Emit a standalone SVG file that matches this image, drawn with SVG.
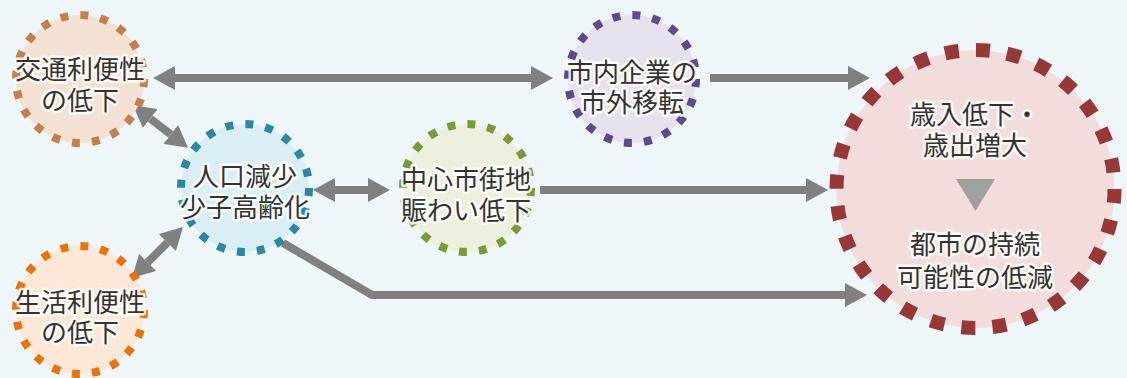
<svg xmlns="http://www.w3.org/2000/svg" width="1127" height="378" viewBox="0 0 1127 378">
<style>
  .lbl{font-family:"Noto Sans CJK JP","Noto Sans",sans-serif;font-size:26px;fill:#333;text-anchor:middle;dominant-baseline:central;stroke:#fff;stroke-width:5;stroke-opacity:0.85;paint-order:stroke;stroke-linejoin:round}
  .con{fill:none;stroke:#808080;stroke-width:8;stroke-linejoin:miter}
  .ring{stroke-width:8;stroke-dasharray:8 12.1}
</style>
<defs>
  <marker id="ah" markerUnits="userSpaceOnUse" markerWidth="22" markerHeight="24" viewBox="0 0 22 24" refX="0" refY="12" orient="auto-start-reverse">
    <path d="M0,0 L22,12 L0,24 Z" fill="#808080"/>
  </marker>
</defs>
<rect width="1127" height="378" fill="#EEF6F9"/>
<g id="connectors">
  <path class="con" d="M175,78 L531,78" marker-start="url(#ah)" marker-end="url(#ah)"/>
  <path class="con" d="M710,78 L848,78" marker-end="url(#ah)"/>
  <path class="con" d="M540,190 L806,190" marker-end="url(#ah)"/>
  <path class="con" d="M335,190 L368,190" marker-start="url(#ah)" marker-end="url(#ah)"/>
  <path class="con" d="M283,243 L372,295 L845,295" marker-end="url(#ah)"/>
  <path class="con" d="M150.3,118.6 L170.7,134.4" marker-start="url(#ah)" marker-end="url(#ah)"/>
  <path class="con" d="M147.6,262.4 L167.4,242.6" marker-start="url(#ah)" marker-end="url(#ah)"/>
</g>
<g id="node-kotsu">
  <circle cx="80" cy="79" r="64" fill="#F3E1D3" stroke="#C47F4F" class="ring"/>
  <text class="lbl" x="80" y="67">交通利便性</text>
  <text class="lbl" x="80" y="98">の低下</text>
</g>
<g id="node-jinko">
  <circle cx="245" cy="188" r="64" fill="#DAEEF5" stroke="#2E86A0" class="ring"/>
  <text class="lbl" x="245" y="174">人口減少</text>
  <text class="lbl" x="245" y="205">少子高齢化</text>
</g>
<g id="node-seikatsu">
  <circle cx="80" cy="310" r="64" fill="#FDE7D6" stroke="#E8720C" class="ring"/>
  <text class="lbl" x="80" y="300">生活利便性</text>
  <text class="lbl" x="80" y="330">の低下</text>
</g>
<g id="node-kigyo">
  <circle cx="632" cy="79" r="64" fill="#E7E1EE" stroke="#5E4A8A" class="ring"/>
  <text class="lbl" x="632" y="70">市内企業の</text>
  <text class="lbl" x="632" y="100">市外移転</text>
</g>
<g id="node-chushin">
  <circle cx="467" cy="188" r="64" fill="#EEF0DF" stroke="#7A9A3A" class="ring"/>
  <text class="lbl" x="466" y="177">中心市街地</text>
  <text class="lbl" x="466" y="208">賑わい低下</text>
</g>
<g id="node-toshi">
  <circle cx="975.5" cy="189" r="139" fill="#F3DCDC" stroke="#963838" stroke-width="14" stroke-dasharray="14 17.2"/>
  <text class="lbl" x="975" y="112">歳入低下・</text>
  <text class="lbl" x="975" y="143">歳出増大</text>
  <path d="M956,179 L995,179 L975.5,211 Z" fill="#A0A0A0"/>
  <text class="lbl" x="975" y="242">都市の持続</text>
  <text class="lbl" x="975" y="275">可能性の低減</text>
</g>
</svg>
